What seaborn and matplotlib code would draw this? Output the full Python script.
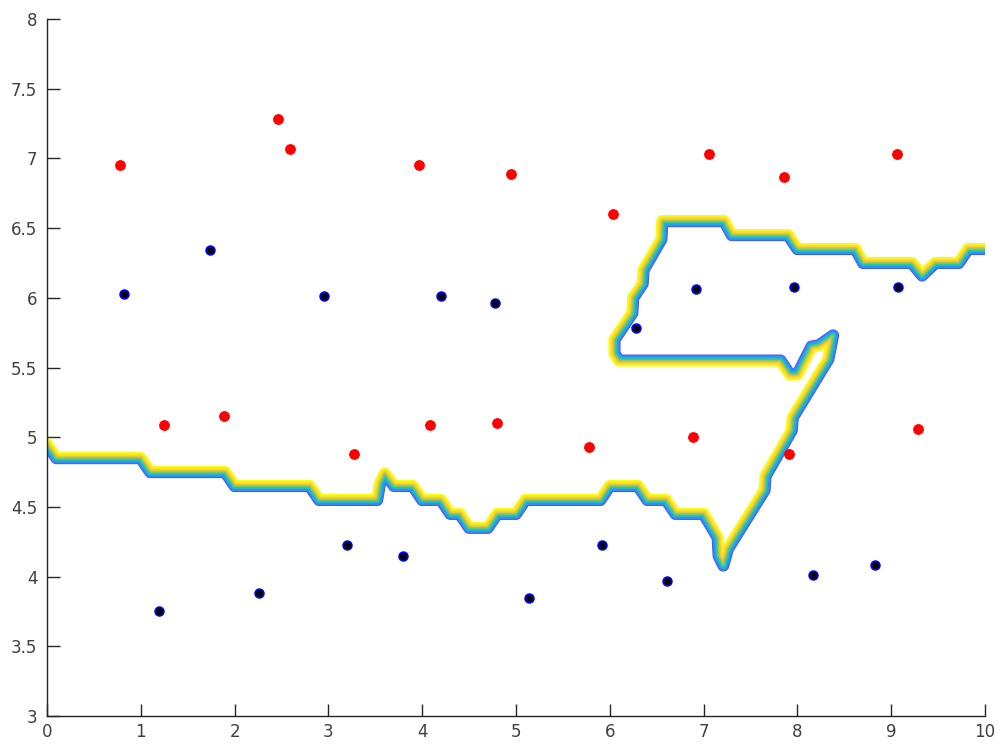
import numpy as np
import matplotlib
matplotlib.use("Agg")
import matplotlib.pyplot as plt
from matplotlib.path import Path
from matplotlib.colors import LinearSegmentedColormap
from matplotlib.ticker import FormatStrFormatter
import seaborn as sns

# ── data ───────────────────────────────────────────────────────
red_x = [0.78, 2.46, 2.59, 3.97, 4.95, 6.03, 7.06, 7.86, 9.06,
         1.25, 1.89, 3.27, 4.08, 4.80, 5.78, 6.89, 7.91, 9.29]
red_y = [6.95, 7.28, 7.07, 6.95, 6.89, 6.60, 7.03, 6.87, 7.03,
         5.09, 5.15, 4.88, 5.09, 5.10, 4.93, 5.00, 4.88, 5.06]

blue_x = [0.82, 1.74, 2.95, 4.20, 4.78, 6.28, 6.92, 7.96, 9.07,
          3.20, 3.80, 5.92, 1.19, 2.26, 5.14, 6.61, 8.17, 8.83]
blue_y = [6.03, 6.34, 6.01, 6.01, 5.96, 5.78, 6.06, 6.08, 6.08,
          4.23, 4.15, 4.23, 3.75, 3.88, 3.85, 3.97, 4.01, 4.08]

# decision boundary (centre of the contour ribbon), left edge to right edge
bound_x = [0.00, 0.10, 1.00, 1.10, 1.90, 2.00, 2.80, 2.90, 3.52, 3.55,
           3.60, 3.70, 3.90, 4.00, 4.20, 4.30, 4.40, 4.50, 4.70, 4.80,
           5.00, 5.10, 5.90, 6.00, 6.30, 6.40, 6.60, 6.70, 7.00, 7.15,
           7.16, 7.21, 7.26, 7.65, 7.66, 7.94, 7.95, 8.33, 8.36, 8.38,
           8.23, 8.15, 8.00, 7.92, 7.82, 6.10, 6.05, 6.05, 6.24, 6.25,
           6.35, 6.36, 6.55, 6.56, 7.22, 7.30, 7.90, 8.00, 8.62, 8.70,
           9.22, 9.33, 9.47, 9.72, 9.82, 10.00]
bound_y = [4.95, 4.85, 4.85, 4.75, 4.75, 4.65, 4.65, 4.55, 4.55, 4.67,
           4.74, 4.65, 4.65, 4.55, 4.55, 4.45, 4.45, 4.35, 4.35, 4.45,
           4.45, 4.55, 4.55, 4.65, 4.65, 4.55, 4.55, 4.45, 4.45, 4.28,
           4.15, 4.08, 4.20, 4.62, 4.72, 5.05, 5.14, 5.56, 5.66, 5.73,
           5.66, 5.65, 5.45, 5.45, 5.55, 5.55, 5.60, 5.70, 5.89, 6.00,
           6.10, 6.20, 6.42, 6.55, 6.55, 6.45, 6.45, 6.35, 6.35, 6.25,
           6.25, 6.16, 6.25, 6.25, 6.35, 6.35]

PARULA = [(0.2422, 0.1504, 0.6603), (0.2810, 0.3228, 0.9578),
          (0.1786, 0.5289, 0.9682), (0.0689, 0.6948, 0.8394),
          (0.2161, 0.7843, 0.5923), (0.6720, 0.7793, 0.2227),
          (0.9970, 0.7659, 0.2199), (0.9598, 0.9218, 0.0948),
          (0.9769, 0.9839, 0.0805)]
parula = LinearSegmentedColormap.from_list("parula", PARULA)

sns.set_style("ticks")
plt.rcParams["font.family"] = ["DejaVu Sans"]

fig = plt.figure(figsize=(10, 7.46), dpi=100)
ax = fig.add_axes([0.047, 0.0402, 0.938, 0.9343])
ax.set_xlim(0, 10)
ax.set_ylim(3, 8)

# ── signed distance field (in screen pixels) around the boundary ──
px_x = 0.938 * 1000 / 10.0
px_y = 0.9343 * 746 / 5.0
bx = np.array([-1.0] + bound_x + [11.0])
by = np.array([bound_y[0]] + bound_y + [bound_y[-1]])

gx = np.linspace(0, 10, 2001)
gy = np.linspace(3.8, 7.0, 920)
GX, GY = np.meshgrid(gx, gy)
PX, PY = GX * px_x, GY * px_y
dist = np.full(GX.shape, np.inf)
for i in range(len(bx) - 1):
    ax0, ay0 = bx[i] * px_x, by[i] * px_y
    ax1, ay1 = bx[i + 1] * px_x, by[i + 1] * px_y
    dx, dy = ax1 - ax0, ay1 - ay0
    t = ((PX - ax0) * dx + (PY - ay0) * dy) / (dx * dx + dy * dy)
    t = np.clip(t, 0, 1)
    d = np.hypot(PX - (ax0 + t * dx), PY - (ay0 + t * dy))
    dist = np.minimum(dist, d)

poly = np.column_stack([np.r_[bx, 11.0, -1.0], np.r_[by, 2.0, 2.0]])
inside = Path(poly).contains_points(np.column_stack([GX.ravel(), GY.ravel()]))
field = np.where(inside.reshape(GX.shape), -dist, dist)

levels = np.linspace(-5.5, 5.5, 18)
ax.contour(GX, GY, field, levels=levels,
           colors=[parula(v) for v in np.linspace(0.14, 1.0, len(levels))],
           linewidths=0.8, zorder=2)

# ── points ──
sns.scatterplot(x=red_x, y=red_y, ax=ax, color="red", edgecolor="red",
                s=48, linewidth=0.8, zorder=3)
sns.scatterplot(x=blue_x, y=blue_y, ax=ax, color="black", edgecolor="blue",
                s=40, linewidth=1.2, zorder=3)

ax.set_xticks(np.arange(0, 11, 1))
ax.set_yticks(np.arange(3, 8.01, 0.5))
ax.yaxis.set_major_formatter(FormatStrFormatter("%g"))
ax.tick_params(direction="in", length=9, width=1, colors="#262626",
               labelsize=12, labelcolor="#404040")
ax.tick_params(axis="x", pad=5)
ax.tick_params(axis="y", pad=7)
for s in ["left", "bottom"]:
    ax.spines[s].set_color("#262626")
    ax.spines[s].set_linewidth(1)
sns.despine(ax=ax)

fig.savefig("out.png", dpi=100)
